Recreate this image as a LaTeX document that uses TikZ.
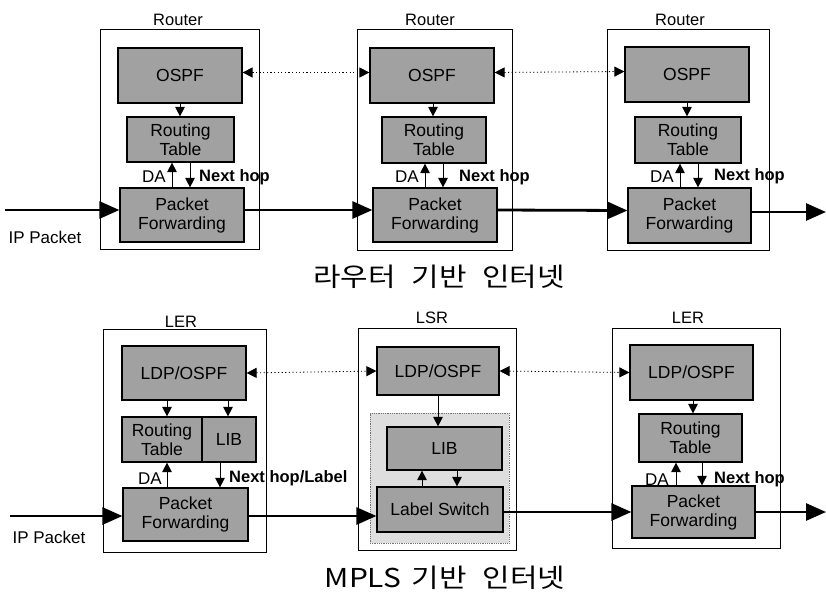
\documentclass[tikz,border=0pt]{standalone}
\usepackage{fontspec}
\setmainfont{Liberation Sans}
\newfontfamily\kfont[FakeStretch=1.15]{Noto Sans CJK KR}
\usetikzlibrary{arrows.meta,calc}

\definecolor{boxgray}{gray}{0.63}
\definecolor{zonegray}{gray}{0.87}

\begin{document}
\begin{tikzpicture}[x=1pt,y=-1pt,
  blk/.style={draw, fill=boxgray, line width=1.2pt, inner sep=0pt, align=center,
              font=\fontsize{17.5}{19}\selectfont},
  frame/.style={draw, line width=1pt, inner sep=0pt},
  zone/.style={draw=black!55, densely dotted, line width=0.8pt, fill=zonegray, inner sep=0pt},
  ttl/.style={inner sep=0pt, font=\fontsize{16.5}{17}\selectfont},
  lbl/.style={inner sep=0pt, font=\fontsize{17}{17}\selectfont},
  blbl/.style={inner sep=0pt, font=\fontsize{16.5}{16.5}\selectfont\bfseries},
  ktitle/.style={inner sep=0pt, font=\kfont\fontsize{26}{28}\selectfont},
  flow/.style={line width=2.8pt, -{Triangle[length=20pt,width=17pt]}},
  link/.style={line width=1pt, -{Triangle[length=9.5pt,width=9.5pt]}},
  peer/.style={line width=0.8pt, dash pattern=on 1.2pt off 2.4pt,
               {Triangle[length=10pt,width=10pt]}-{Triangle[length=10pt,width=10pt]}}
]
\useasboundingbox (0,0) rectangle (826,595);

% ---------------- router based internet ----------------
% router 1
\node[ttl] (rl1) at (178,20) {Router};
\node[frame, minimum width=159, minimum height=220] (R1) at (179.5,139.5) {};
\node[blk, minimum width=124, minimum height=55] (ospf1) at (180,75.5) {OSPF};
\node[blk, minimum width=107, minimum height=45] (rt1) at (180.5,139.5) {Routing\\Table};
\node[blk, minimum width=124, minimum height=54] (pf1) at (182,215) {Packet\\Forwarding};
\draw[link] (180,0 |- ospf1.south) -- (180,0 |- rt1.north);
\draw[link] (172,0 |- pf1.north) -- (172,0 |- rt1.south);
\draw[link] (190,0 |- rt1.south) -- (190,0 |- pf1.north);
\node[lbl, anchor=east] (da1) at (166,177) {DA};
\node[blbl, anchor=west] (nh1) at (199,177) {Next hop};

% router 2
\node[ttl] (rl2) at (430,20) {Router};
\node[frame, minimum width=155, minimum height=221] (R2) at (434.5,139.5) {};
\node[blk, minimum width=124, minimum height=55] (ospf2) at (432,75.5) {OSPF};
\node[blk, minimum width=104, minimum height=46] (rt2) at (434,140) {Routing\\Table};
\node[blk, minimum width=124, minimum height=54] (pf2) at (435,215) {Packet\\Forwarding};
\draw[link] (433,0 |- ospf2.south) -- (433,0 |- rt2.north);
\draw[link] (425,0 |- pf2.north) -- (425,0 |- rt2.south);
\draw[link] (443,0 |- rt2.south) -- (443,0 |- pf2.north);
\node[lbl, anchor=east] (da2) at (419,177) {DA};
\node[blbl, anchor=west] (nh2) at (459,177) {Next hop};

% router 3
\node[ttl] (rl3) at (680,20) {Router};
\node[frame, minimum width=162, minimum height=221] (R3) at (688,139.5) {};
\node[blk, minimum width=124, minimum height=55] (ospf3) at (687,74.5) {OSPF};
\node[blk, minimum width=106, minimum height=46] (rt3) at (688,140) {Routing\\Table};
\node[blk, minimum width=123, minimum height=55] (pf3) at (689.5,215.5) {Packet\\Forwarding};
\draw[link] (687,0 |- ospf3.south) -- (687,0 |- rt3.north);
\draw[link] (680,0 |- pf3.north) -- (680,0 |- rt3.south);
\draw[link] (698,0 |- rt3.south) -- (698,0 |- pf3.north);
\node[lbl, anchor=east] (da3) at (674,177) {DA};
\node[blbl, anchor=west] (nh3) at (714,176) {Next hop};

% routing protocol exchange
\draw[peer] ([yshift=3pt]ospf1.east) -- ([yshift=3pt]ospf2.west);
\draw[peer] ([yshift=3pt]ospf2.east) -- ([yshift=3pt]ospf3.west);

% packet path
\coordinate (in1) at (5,210);
\coordinate (out1) at (826,212);
\node[lbl] (ip1) at (45,237) {IP Packet};
\draw[flow] (in1) -- ([yshift=5pt]pf1.west);
\draw[flow] ([yshift=5pt]pf1.east) -- ([yshift=5pt]pf2.west);
\draw[flow] ([yshift=5pt]pf2.east) -- ([yshift=5pt]pf3.west);
\draw[flow] ([yshift=3.5pt]pf3.east) -- (out1);

\node[ktitle] (title1) at (439,277) {라우터\hspace{9pt} 기반\hspace{9pt} 인터넷};

% ---------------- MPLS based internet ----------------
% ingress LER
\node[ttl] (ll1) at (181,322) {LER};
\node[frame, minimum width=163, minimum height=223] (L1) at (184.5,440.5) {};
\node[blk, minimum width=124, minimum height=54] (ldp1) at (184,373) {LDP/OSPF};
\node[blk, minimum width=80, minimum height=45] (rtb1) at (162,439.5) {Routing\\Table};
\node[blk, minimum width=54, minimum height=45] (lib1) at (229,439.5) {LIB};
\node[blk, minimum width=125, minimum height=53] (pfb1) at (185.5,514.5) {Packet\\Forwarding};
\draw[link] (167,0 |- ldp1.south) -- (167,0 |- rtb1.north);
\draw[link] (228,0 |- ldp1.south) -- (228,0 |- lib1.north);
\draw[link] (167,0 |- pfb1.north) -- (167,0 |- rtb1.south);
\draw[link] (220,0 |- lib1.south) -- (220,0 |- pfb1.north);
\node[lbl, anchor=east] (dab1) at (162,479) {DA};
\node[blbl, anchor=west] (nhb1) at (229,478) {Next hop/Label};

% core LSR
\node[ttl] (ls2) at (432,318) {LSR};
\node[frame, minimum width=158, minimum height=222] (L2) at (437,439) {};
\node[zone, minimum width=139, minimum height=130] (core) at (439.5,478) {};
\node[blk, minimum width=122, minimum height=48] (ldp2) at (438,371) {LDP/OSPF};
\node[blk, minimum width=115, minimum height=43] (lib2) at (444.5,448.5) {LIB};
\node[blk, minimum width=126, minimum height=45] (ls) at (440,509.5) {Label Switch};
\draw[link] (438,0 |- ldp2.south) -- (438,0 |- lib2.north);
\draw[link] (422,0 |- ls.north) -- (422,0 |- lib2.south);
\draw[link] (457,0 |- lib2.south) -- (457,0 |- ls.north);

% egress LER
\node[ttl] (ll3) at (688,318) {LER};
\node[frame, minimum width=168, minimum height=220] (L3) at (696,438) {};
\node[blk, minimum width=123, minimum height=55] (ldp3) at (691.5,372.5) {LDP/OSPF};
\node[blk, minimum width=103, minimum height=48] (rtb3) at (690.5,438) {Routing\\Table};
\node[blk, minimum width=123, minimum height=52] (pfb3) at (693.5,512) {Packet\\Forwarding};
\draw[link] (693,0 |- ldp3.south) -- (693,0 |- rtb3.north);
\draw[link] (676,0 |- pfb3.north) -- (676,0 |- rtb3.south);
\draw[link] (702,0 |- rtb3.south) -- (702,0 |- pfb3.north);
\node[lbl, anchor=east] (dab3) at (669,480) {DA};
\node[blbl, anchor=west] (nhb3) at (714,479) {Next hop};

% label distribution exchange
\draw[peer] (ldp1.east) -- (ldp2.west);
\draw[peer] (ldp2.east) -- (ldp3.west);

% labelled packet path
\coordinate (in2) at (10,516);
\coordinate (out2) at (826,512);
\node[lbl] (ip2) at (49,537) {IP Packet};
\draw[flow] (in2) -- ([yshift=-1.5pt]pfb1.west);
\draw[flow] ([yshift=-1.5pt]pfb1.east) -- ([yshift=-1.5pt]pfb1.east -| ls.west);
\draw[flow] ([yshift=-2.5pt]ls.east) -- (pfb3.west);
\draw[flow] (pfb3.east) -- (out2);

\node[ktitle] (title2) at (445,578) {MPLS\hspace{4pt} 기반\hspace{9pt} 인터넷};
\end{tikzpicture}
\end{document}
